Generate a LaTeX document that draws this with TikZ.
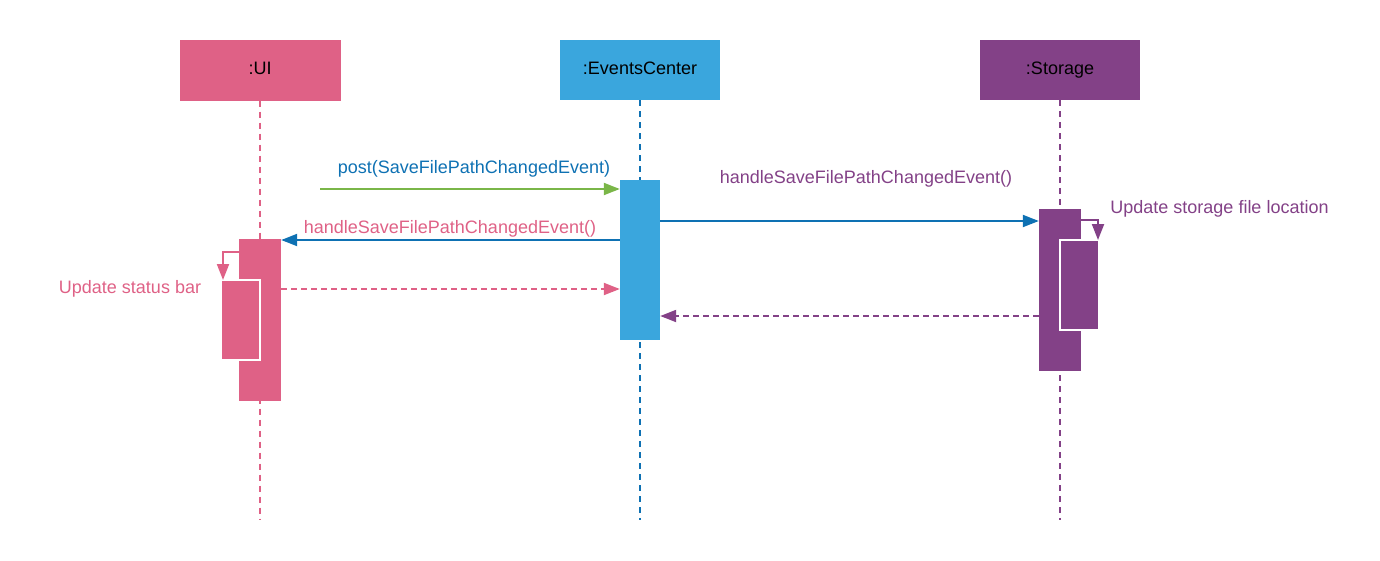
\documentclass[tikz,border=0pt]{standalone}
\usepackage{fontspec}
\setmainfont{Liberation Sans}
\usetikzlibrary{arrows.meta}
\definecolor{uipink}{HTML}{DF6186}
\definecolor{ecblue}{HTML}{3AA6DD}
\definecolor{stpurple}{HTML}{834187}
\definecolor{dblue}{HTML}{0E71B3}
\definecolor{mgreen}{HTML}{7AB648}
\tikzset{
  head/.style={minimum width=161pt, minimum height=61pt, inner sep=0pt, font=\fontsize{18}{21}\selectfont, text=black, text height=13pt, text depth=5pt},
  act/.style={inner sep=0pt, minimum width=41pt},
  nest/.style={inner sep=0pt, minimum width=39pt, draw=white, line width=2pt},
  life/.style={line width=2pt, dash pattern=on 6pt off 5pt},
  msg/.style={line width=2pt, -{Triangle[length=16pt,width=12pt]}},
  ret/.style={line width=2pt, dash pattern=on 6pt off 4pt, -{Triangle[length=16pt,width=12pt]}},
  lbl/.style={inner sep=0pt, font=\fontsize{18}{21}\selectfont},
}
\begin{document}
\begin{tikzpicture}[x=1pt,y=-1pt]
\useasboundingbox (0,0) rectangle (1380,560);
% heads
\node[head, fill=uipink] (ui) at (260,70) {:UI};
\node[head, fill=ecblue, minimum height=60pt, minimum width=160pt] (ec) at (640,70) {:EventsCenter};
\node[head, fill=stpurple, minimum height=60pt, minimum width=160pt] (st) at (1060,70) {:Storage};
% lifeline ends
\coordinate (uiEnd) at (260,520);
\coordinate (ecEnd) at (640,520);
\coordinate (stEnd) at (1060,520);
\draw[life, uipink] (ui.south) -- (uiEnd);
\draw[life, dblue] (ec.south) -- (ecEnd);
\draw[life, stpurple] (st.south) -- (stEnd);
% activations
\node[act, fill=uipink, minimum width=42pt, minimum height=162pt] (uiAct) at (260,320) {};
\node[nest, fill=uipink, minimum height=80pt] (uiNest) at (240.5,320) {};
\node[act, fill=ecblue, minimum width=40pt, minimum height=160pt] (ecAct) at (640,260) {};
\node[act, fill=stpurple, minimum width=42pt, minimum height=162pt] (stAct) at (1060,290) {};
\node[nest, fill=stpurple, minimum height=90pt] (stNest) at (1079.5,285) {};
% messages
\coordinate (postStart) at (320,189);
\draw[msg, mgreen] (postStart) -- (ecAct.west |- postStart);
\node[lbl, text=dblue] (postL) at (474,169) {post(SaveFilePathChangedEvent)};
\coordinate (m2) at (660,221);
\draw[msg, dblue] (ecAct.east |- m2) -- (stAct.west |- m2);
\node[lbl, text=stpurple] (m2L) at (866,179) {handleSaveFilePathChangedEvent()};
\coordinate (m3) at (620,240);
\draw[msg, dblue] (ecAct.west |- m3) -- (uiAct.east |- m3);
\node[lbl, text=uipink] (m3L) at (450,229) {handleSaveFilePathChangedEvent()};
\coordinate (r1) at (281,289);
\draw[ret, uipink] (uiAct.east |- r1) -- (ecAct.west |- r1);
\coordinate (r2) at (1039,316);
\draw[ret, stpurple] (stAct.west |- r2) -- (ecAct.east |- r2);
% self messages
\coordinate (s1) at (239,252);
\draw[msg, uipink] (uiAct.west |- s1) -- (223,252) -- (223,280);
\node[lbl, text=uipink] (s1L) at (130,289) {Update status bar};
\coordinate (s2) at (1081,220);
\draw[msg, stpurple] (stAct.east |- s2) -- (1098,220) -- (1098,240);
\node[lbl, text=stpurple] (s2L) at (1219.5,209) {Update storage file location};
\end{tikzpicture}
\end{document}
